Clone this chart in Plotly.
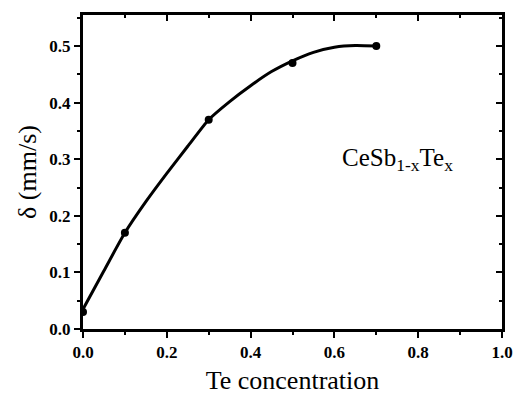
import plotly.graph_objects as go

# measured data points
te_x = [0.0, 0.1, 0.3, 0.5, 0.7]
delta_y = [0.03, 0.17, 0.37, 0.47, 0.50]

# fitted curve
curve_x = [0.0, 0.05, 0.1, 0.15, 0.2, 0.25, 0.3, 0.35, 0.4, 0.45, 0.5, 0.55, 0.6, 0.65, 0.7]
curve_y = [0.035, 0.103, 0.17, 0.225, 0.275, 0.323, 0.37, 0.402, 0.43, 0.455, 0.474, 0.489, 0.498, 0.501, 0.5]

x_ticks = [0.0, 0.2, 0.4, 0.6, 0.8, 1.0]
y_ticks = [0.0, 0.1, 0.2, 0.3, 0.4, 0.5]

FONT = "Liberation Serif"

fig = go.Figure()
fig.add_trace(go.Scatter(x=curve_x, y=curve_y, mode="lines",
                         line=dict(color="black", width=3, shape="spline", smoothing=0.6),
                         showlegend=False, hoverinfo="skip"))
fig.add_trace(go.Scatter(x=te_x, y=delta_y, mode="markers",
                         marker=dict(color="black", size=8), showlegend=False))
# invisible trace for top/right axes
fig.add_trace(go.Scatter(x=[0], y=[0], xaxis="x2", yaxis="y2", mode="markers",
                         marker=dict(opacity=0), showlegend=False, hoverinfo="skip"))

axis_common = dict(showgrid=False, zeroline=False, showline=True, linecolor="black",
                   linewidth=3, tickcolor="black", tickwidth=2, ticklen=6)

fig.update_layout(
    width=525, height=403,
    margin=dict(l=83, r=13, t=15, b=65),
    plot_bgcolor="white", paper_bgcolor="white",
    font=dict(family=FONT, color="black"),
    xaxis=dict(range=[0, 1.0], tickvals=x_ticks, ticktext=[f"<b>{v:.1f}</b>" for v in x_ticks],
               ticks="outside",
               tickfont=dict(family=FONT, size=17, color="black"),
               title=dict(text="Te concentration", font=dict(family=FONT, size=26), standoff=10),
               minor=dict(dtick=0.1, ticks="outside", ticklen=3, tickcolor="black", tickwidth=2),
               **axis_common),
    yaxis=dict(range=[0, 0.555], tickvals=y_ticks, ticktext=[f"<b>{v:.1f}</b>" for v in y_ticks],
               ticks="outside",
               tickfont=dict(family=FONT, size=17, color="black"),
               title=dict(text="δ (mm/s)", font=dict(family=FONT, size=26), standoff=6),
               minor=dict(dtick=0.05, ticks="outside", ticklen=3, tickcolor="black", tickwidth=2),
               **axis_common),
    xaxis2=dict(range=[0, 1.0], overlaying="x", side="top", tickvals=x_ticks,
                showticklabels=False, ticks="inside",
                minor=dict(dtick=0.1, ticks="inside", ticklen=3, tickcolor="black", tickwidth=2),
                **axis_common),
    yaxis2=dict(range=[0, 0.555], overlaying="y", side="right", tickvals=y_ticks,
                showticklabels=False, ticks="inside",
                minor=dict(dtick=0.05, ticks="inside", ticklen=3, tickcolor="black", tickwidth=2),
                **axis_common),
    annotations=[dict(x=0.75, y=0.30, xref="x", yref="y",
                      text="CeSb<sub>1-x</sub>Te<sub>x</sub>", showarrow=False,
                      font=dict(family=FONT, size=25, color="black"))],
)

fig.write_html("out.html")
